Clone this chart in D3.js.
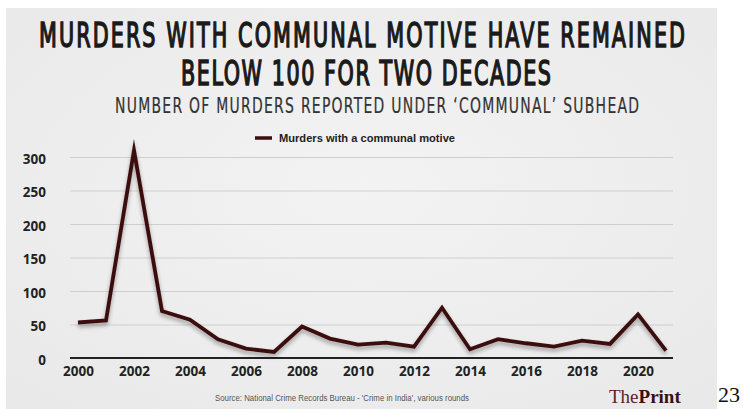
<!DOCTYPE html>
<html><head><meta charset="utf-8">
<script src="https://cdn.jsdelivr.net/npm/d3@7"></script>
<style>
html,body{margin:0;padding:0;background:#fff;}
svg{display:block;}
</style></head>
<body>
<script>
const years = [2000,2001,2002,2003,2004,2005,2006,2007,2008,2009,2010,2011,2012,2013,2014,2015,2016,2017,2018,2019,2020,2021];
const murders = [53,56,310,70,57,28,14,9,47,29,20,23,17,75,13,28,22,17,26,21,65,11];
const yTicks = [0,50,100,150,200,250,300];
const xTicks = [2000,2002,2004,2006,2008,2010,2012,2014,2016,2018,2020];
const seriesName = "Murders with a communal motive";
const title1 = "MURDERS WITH  COMMUNAL MOTIVE HAVE REMAINED";
const title2 = "BELOW 100 FOR TWO DECADES";
const subtitle = "NUMBER OF MURDERS REPORTED UNDER \u2018COMMUNAL\u2019 SUBHEAD";
const source = "Source: National Crime Records Bureau - 'Crime in India', various rounds";

const W = 743, H = 409;
const svg = d3.select("body").append("svg").attr("width", W).attr("height", H);
const defs = svg.append("defs");
const grad = defs.append("radialGradient").attr("id","bg").attr("cx","50%").attr("cy","45%").attr("r","70%");
grad.append("stop").attr("offset","0%").attr("stop-color","#f3f3f3");
grad.append("stop").attr("offset","100%").attr("stop-color","#e9e9e9");
const f = defs.append("filter").attr("id","shadow").attr("x","-10%").attr("y","-10%").attr("width","120%").attr("height","130%");
f.append("feGaussianBlur").attr("in","SourceAlpha").attr("stdDeviation",2.2).attr("result","b");
f.append("feOffset").attr("in","b").attr("dx",0).attr("dy",2.5).attr("result","o");
f.append("feComponentTransfer").attr("in","o").attr("result","o2").append("feFuncA").attr("type","linear").attr("slope",0.35);
const m = f.append("feMerge"); m.append("feMergeNode").attr("in","o2"); m.append("feMergeNode").attr("in","SourceGraphic");

svg.append("rect").attr("x",6).attr("y",8).attr("width",711).attr("height",H-8).attr("fill","url(#bg)");

const condensed = "'DejaVu Sans Condensed','Liberation Sans Narrow',sans-serif";
function tallText(txt, cx, baseline, len, size, sy, weight, fill, sw){
  const g = svg.append("g").attr("transform",`translate(${cx},${baseline}) scale(1,${sy})`);
  g.append("text").attr("x",0).attr("y",0).attr("text-anchor","middle")
    .attr("textLength",len).attr("lengthAdjust","spacing")
    .style("font-family",condensed).style("font-weight",weight).style("font-size",size+"px")
    .attr("fill",fill).attr("stroke",fill).attr("stroke-width",sw).text(txt);
}
tallText(title1, 362, 47, 646, 23, 1.45, "normal", "#1a1a1a", 1.0);
tallText(title2, 366, 85, 370, 23, 1.45, "normal", "#1a1a1a", 1.0);
tallText(subtitle, 377, 113, 524, 15.5, 1.38, "normal", "#333", 0.15);

// legend
svg.append("line").attr("x1",255).attr("x2",272).attr("y1",138).attr("y2",138).attr("stroke","#3b0d10").attr("stroke-width",3.5);
svg.append("text").attr("x",279).attr("y",142).attr("textLength",176).attr("lengthAdjust","spacingAndGlyphs")
  .style("font-family","'Liberation Sans',Arial,sans-serif").style("font-weight","bold").style("font-size","11px").attr("fill","#222").text(seriesName);

const x = d3.scaleLinear().domain([2000,2021]).range([78,666]);
const y = d3.scaleLinear().domain([0,300]).range([358,157]);

// gridlines
const grid = svg.append("g").attr("transform","translate(70,0)")
  .call(d3.axisLeft(y).tickValues(yTicks.filter(d=>d>0)).tickSize(0).tickFormat(""));
grid.select(".domain").remove();
grid.selectAll("line").attr("x1",0).attr("x2",603).attr("stroke","#cfcfcf").attr("stroke-width",1.2);

// y labels
const yAx = svg.append("g").attr("transform","translate(46,0)")
  .call(d3.axisLeft(y).tickValues(yTicks).tickSize(0).tickPadding(0));
yAx.select(".domain").remove();
yAx.selectAll("text").style("font-family","'Open Sans','Liberation Sans',Arial,sans-serif").style("font-weight","bold").style("font-size","13.5px").attr("fill","#222").attr("dy","0.45em");

// baseline + x labels
const xAx = svg.append("g").attr("transform",`translate(0,${y(0)})`)
  .call(d3.axisBottom(x).tickValues(xTicks).tickFormat(d3.format("d")).tickSize(0).tickPadding(8));
xAx.select(".domain").attr("d","M70,0H673").attr("stroke","#222").attr("stroke-width",2);
xAx.selectAll("text").style("font-family","'Open Sans','Liberation Sans',Arial,sans-serif").style("font-weight","bold").style("font-size","13.5px").attr("fill","#222");

// line
const line = d3.line().x((d,i)=>x(years[i])).y(d=>y(d)).curve(d3.curveLinear);
svg.append("path").datum(murders).attr("d",line).attr("fill","none")
  .attr("stroke","#3b0d10").attr("stroke-width",3.8).attr("stroke-linejoin","miter").attr("stroke-miterlimit",10)
  .attr("filter","url(#shadow)");

// footer
svg.append("text").attr("x",342).attr("y",401).attr("text-anchor","middle").attr("textLength",254).attr("lengthAdjust","spacingAndGlyphs")
  .style("font-family","'Liberation Sans',Arial,sans-serif").style("font-size","8.5px").attr("fill","#555").text(source);
const tp = svg.append("text").attr("x",609).attr("y",403)
  .style("font-family","'Liberation Serif','DejaVu Serif',serif").style("font-size","19px");
tp.append("tspan").attr("fill","#5a2424").text("The");
tp.append("tspan").attr("fill","#3a1014").style("font-weight","bold").text("Print");
svg.append("text").attr("x",718).attr("y",402).style("font-family","'Liberation Serif',serif").style("font-size","22px").attr("fill","#111").text("23");
</script>
</body></html>
